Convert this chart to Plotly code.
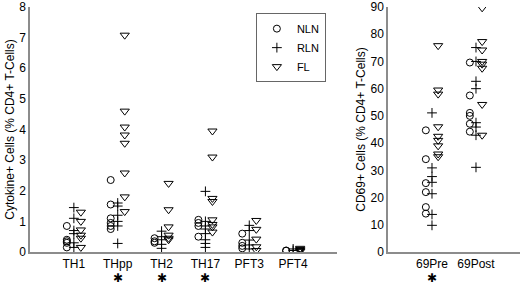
import plotly.graph_objects as go

# Left panel: cytokine+ cells (% CD4+ T-cells)
cyto_cats = ["TH1", "THpp", "TH2", "TH17", "PFT3", "PFT4"]
cyto_nln = [
    [0.85, 0.4, 0.35, 0.3, 0.15],
    [2.35, 1.55, 1.1, 0.95, 0.85, 0.75],
    [0.45, 0.35, 0.3],
    [1.05, 0.95, 0.85, 0.5],
    [0.6, 0.3, 0.2, 0.12],
    [0.05, 0.04],
]
cyto_rln = [
    [1.45, 1.1, 0.7, 0.6, 0.3, 0.15],
    [1.6, 1.5, 1.2, 1.0, 0.85, 0.28],
    [0.68, 0.5, 0.4, 0.25, 0.12],
    [1.98, 1.0, 0.85, 0.75, 0.6, 0.4, 0.28, 0.15],
    [0.87, 0.7, 0.39, 0.23, 0.1],
    [0.1, 0.05],
]
cyto_fl = [
    [1.3, 1.0, 0.72, 0.55, 0.45, 0.15],
    [7.08, 4.6, 4.08, 3.82, 3.55, 2.58, 1.8, 1.32],
    [2.24, 1.38, 0.82, 0.55, 0.45, 0.4],
    [3.95, 3.1, 1.75, 1.65, 1.05, 0.9, 0.82, 0.65],
    [1.03, 0.74, 0.42, 0.17, 0.05],
    [0.12, 0.08, 0.05, 0.02],
]

# Right panel: CD69+ cells (% CD4+ T-cells)
cd69_cats = ["69Pre", "69Post"]
cd69_nln = [
    [44.7, 34.1, 25.3, 22.0, 16.5, 14.1],
    [69.6, 57.5, 51.1, 50.0, 47.1, 44.2],
]
cd69_rln = [
    [51.1, 30.9, 27.7, 25.6, 21.4, 13.8, 9.8],
    [75.1, 70.0, 62.7, 60.0, 47.5, 45.9, 42.9, 31.1],
]
cd69_fl = [
    [75.8, 59.5, 58.0, 46.0, 42.5, 41.0, 39.0, 36.0, 35.0],
    [89.7, 77.3, 74.2, 70.0, 69.0, 67.5, 54.2, 42.9],
]

starred = ["THpp", "TH2", "TH17", "69Pre"]

group_names = ["NLN", "RLN", "FL"]
symbols = ["circle-open", "cross-thin-open", "triangle-down-open"]
sizes = [7, 7, 8]

fig = go.Figure()

def add_panel(groups, offsets, xaxis, yaxis, show_legend):
    for gi, (vals, name, sym) in enumerate(zip(groups, group_names, symbols)):
        xs, ys = [], []
        for ci, v in enumerate(vals):
            for val in v:
                xs.append(ci + 1 + offsets[gi])
                ys.append(val)
        fig.add_trace(go.Scatter(
            x=xs, y=ys, mode="markers", name=name,
            xaxis=xaxis, yaxis=yaxis, showlegend=show_legend,
            marker=dict(symbol=sym, size=sizes[gi], color="black",
                        line=dict(color="black", width=1)),
        ))

add_panel([cyto_nln, cyto_rln, cyto_fl], [-0.16, 0.0, 0.16], "x", "y", True)
add_panel([cd69_nln, cd69_rln, cd69_fl], [-0.14, 0.0, 0.14], "x2", "y2", False)

font_family = "Liberation Sans, Arial, sans-serif"
axis_common = dict(showgrid=False, zeroline=False, showline=True, linecolor="#8c8c8c",
                   linewidth=1.5, ticks="", automargin=False, ticklabeloverflow="allow",
                   tickfont=dict(size=12, color="black", family=font_family))

annotations = []
for ci, c in enumerate(cyto_cats):
    if c in starred:
        annotations.append(dict(x=ci + 1, y=-0.105, xref="x", yref="paper", text="✱",
                                yanchor="middle", showarrow=False,
                                font=dict(size=12, color="black", family="DejaVu Sans")))
for ci, c in enumerate(cd69_cats):
    if c in starred:
        annotations.append(dict(x=ci + 1, y=-0.105, xref="x2", yref="paper", text="✱",
                                yanchor="middle", showarrow=False,
                                font=dict(size=12, color="black", family="DejaVu Sans")))

fig.update_layout(
    width=520, height=285,
    margin=dict(l=30, r=0, t=7, b=33),
    paper_bgcolor="white", plot_bgcolor="white",
    font=dict(family=font_family, size=12, color="black"),
    xaxis=dict(domain=[0, 0.6265], range=[0, 7], tickvals=list(range(1, len(cyto_cats) + 1)),
               ticktext=cyto_cats, **axis_common),
    yaxis=dict(range=[0, 8], tickvals=list(range(0, 9)),
               title=dict(text="Cytokine+ Cells (% CD4+ T-Cells)", standoff=2,
                          font=dict(size=12, family=font_family)), **axis_common),
    xaxis2=dict(domain=[0.7306, 1], range=[0, 3], tickvals=list(range(1, len(cd69_cats) + 1)),
                ticktext=cd69_cats, anchor="y2", **axis_common),
    yaxis2=dict(range=[0, 90], tickvals=list(range(0, 91, 10)), anchor="x2",
                title=dict(text="CD69+ Cells (% CD4+ T-Cells)", standoff=2,
                           font=dict(size=12, family=font_family)), **axis_common),
    legend=dict(x=0.461, y=0.975, xanchor="left", yanchor="top", bordercolor="#666",
                borderwidth=1, bgcolor="white", font=dict(size=11, family=font_family),
                tracegroupgap=0, itemwidth=30),
    annotations=annotations,
)

fig.write_html("out.html", config={"displayModeBar": False},
               post_script="document.body.style.margin='0';")
